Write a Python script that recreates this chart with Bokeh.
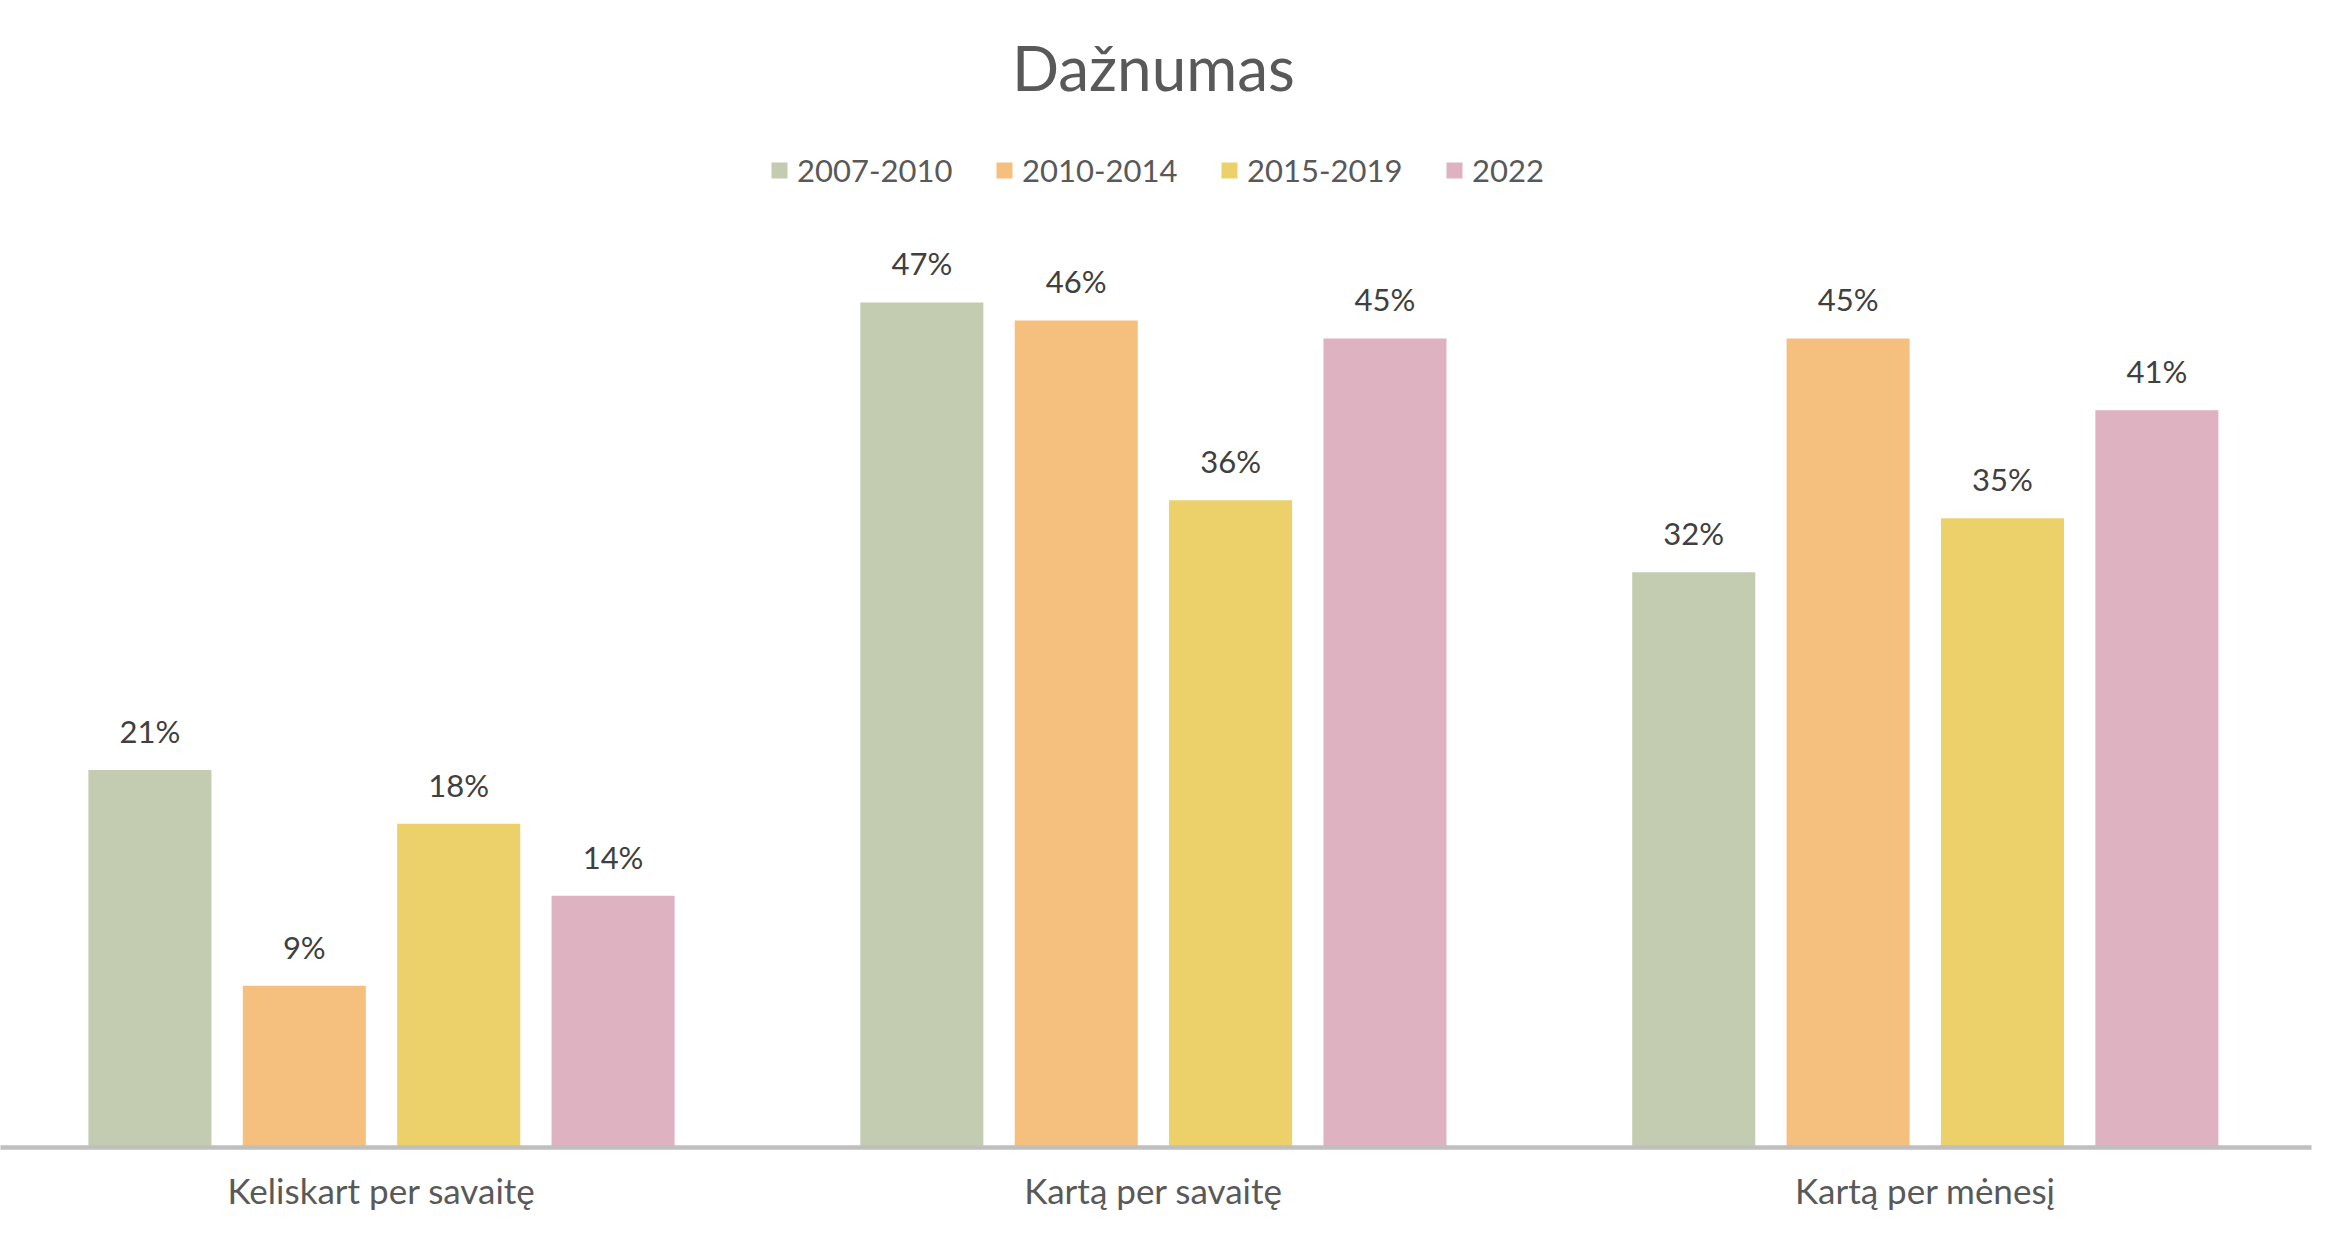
from bokeh.plotting import figure
from bokeh.models import (ColumnDataSource, Range1d, FixedTicker, Legend, LegendItem,
                          LabelSet)
from bokeh.transform import dodge
from bokeh.core.properties import value
from bokeh.embed import file_html
from bokeh.resources import INLINE

# ---------------- data ----------------
categories = ["Keliskart per savaitę", "Kartą per savaitę", "Kartą per mėnesį"]
series_names = ["2007-2010", "2010-2014", "2015-2019", "2022"]
v_2007_2010 = [21, 47, 32]
v_2010_2014 = [9, 46, 45]
v_2015_2019 = [18, 36, 35]
v_2022 = [14, 45, 41]
series_values = [v_2007_2010, v_2010_2014, v_2015_2019, v_2022]
colors = ["#c3cbb1", "#f5bf7e", "#ecd06a", "#dfb2c1"]
title_text = "Dažnumas"

# ---------------- layout constants ----------------
W, H = 2343, 1228
FRAME_W = 2311
MB_BOTTOM = 81
FRAME_H = H - MB_BOTTOM          # frame bottom (axis line) at 1147 px
PX_PER_CAT = 771.9
PX_PER_PCT = 17.98
x0 = -381.0 / PX_PER_CAT
x_range = Range1d(x0, x0 + FRAME_W / PX_PER_CAT)
y_range = Range1d(0, FRAME_H / PX_PER_PCT)

FONT = "Lato"
p = figure(width=W, height=H, x_range=x_range, y_range=y_range,
           output_backend="svg", toolbar_location=None, title=None,
           y_axis_location=None,
           min_border_left=0, min_border_right=W - FRAME_W,
           min_border_top=0, min_border_bottom=MB_BOTTOM)
p.outline_line_color = None
p.xgrid.visible = False
p.ygrid.visible = False
p.background_fill_color = "white"
p.border_fill_color = "white"

idx = list(range(len(categories)))
offsets = [-0.3, -0.1, 0.1, 0.3]
bar_w = 0.1594

items = []
for name, vals, col, off in zip(series_names, series_values, colors, offsets):
    src = ColumnDataSource(dict(idx=idx, val=vals, lab=[f"{v}%" for v in vals]))
    r = p.vbar(x=dodge("idx", off, range=p.x_range), top="val", width=bar_w,
               bottom=0, source=src, fill_color=col, line_color=None)
    items.append(LegendItem(label=name, renderers=[r]))
    labels = LabelSet(x=dodge("idx", off, range=p.x_range), y="val", text="lab",
                      source=src, y_offset=27, text_align="center",
                      text_baseline="alphabetic", text_font=value(FONT),
                      text_font_size="31px", text_color="#404040")
    p.add_layout(labels)

# x axis
ax = p.xaxis[0]
ax.ticker = FixedTicker(ticks=idx)
ax.major_label_overrides = {i: c for i, c in zip(idx, categories)}
ax.major_tick_line_color = None
ax.minor_tick_line_color = None
ax.major_tick_out = 0
ax.major_tick_in = 0
ax.axis_line_color = "#bfbfbf"
ax.axis_line_width = 4.5
ax.major_label_standoff = 21
ax.major_label_text_font = FONT
ax.major_label_text_font_size = "35px"
ax.major_label_text_color = "#595959"

# title (centred over the middle category)
title_baseline_px = 90
title_src = ColumnDataSource(dict(x=[1], y=[(FRAME_H - title_baseline_px) / PX_PER_PCT],
                                  t=[title_text]))
p.add_layout(LabelSet(x="x", y="y", text="t", source=title_src,
                      text_align="center", text_baseline="alphabetic",
                      text_font=value(FONT), text_font_size="62px",
                      text_color="#595959"))

# legend
legend = Legend(items=items, orientation="horizontal",
                location=(769, FRAME_H - 189),
                glyph_width=20, glyph_height=20, label_standoff=8,
                spacing=37, label_width=160, padding=0, margin=0,
                border_line_color=None, background_fill_alpha=0,
                label_text_font=FONT, label_text_font_size="31px",
                label_text_color="#595959")
p.add_layout(legend)

open("out.html", "w").write(file_html(p, INLINE))
